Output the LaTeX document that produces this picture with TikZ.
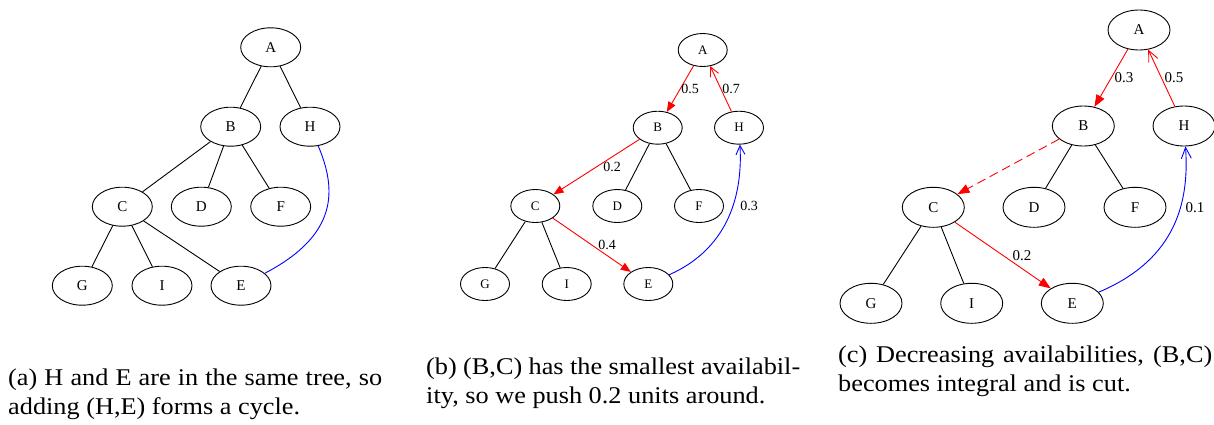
\documentclass[tikz,border=0pt]{standalone}
\usepackage{fontspec}
\usepackage{graphicx}
\setmainfont{Liberation Serif}
\usetikzlibrary{arrows.meta,shapes.geometric}
\newcommand{\capline}[1]{\scalebox{1.095}[1]{\makebox[341.6pt][s]{#1}}}
\newcommand{\capnat}[1]{\scalebox{1.095}[1]{#1}}
\begin{document}
\begin{tikzpicture}[x=1pt,y=-1pt,
  va/.style={ellipse,draw,line width=0.9pt,minimum width=60pt,minimum height=39pt,inner sep=0pt,font=\fontsize{15}{18}\selectfont},
  vb/.style={ellipse,draw,line width=0.9pt,minimum width=49pt,minimum height=33pt,inner sep=0pt,font=\fontsize{13}{16}\selectfont},
  vc/.style={ellipse,draw,line width=0.9pt,minimum width=62pt,minimum height=40pt,inner sep=0pt,font=\fontsize{15}{18}\selectfont},
  tree/.style={line width=0.9pt},
  flow/.style={draw=red,line width=0.9pt},
  back/.style={draw=blue,line width=0.9pt},
  fwdb/.style={-{Triangle[length=10pt,width=8pt]}},
  revb/.style={-{Straight Barb[length=9pt,width=9pt,line width=0.9pt]}},
  fwdc/.style={-{Triangle[length=12pt,width=9pt]}},
  revc/.style={-{Straight Barb[length=11pt,width=10pt,line width=0.9pt]}},
  lblb/.style={font=\fontsize{14}{16}\selectfont,inner sep=0pt},
  lblc/.style={font=\fontsize{15}{17}\selectfont,inner sep=0pt},
  captxt/.style={font=\fontsize{24}{29}\selectfont,inner sep=0pt,anchor=base west}
]
\useasboundingbox (0,0) rectangle (1214,424);

% ---------- panel (a)
\node[va] (aA) at (270.7,47.3) {A};
\node[va] (aB) at (230.7,126.7) {B};
\node[va] (aH) at (310,126.7) {H};
\node[va] (aC) at (122.3,206.7) {C};
\node[va] (aD) at (201.3,206.7) {D};
\node[va] (aF) at (280.7,206.7) {F};
\node[va] (aG) at (82.3,285.7) {G};
\node[va] (aI) at (162,285.7) {I};
\node[va] (aE) at (241,285.7) {E};
\draw[tree] (aA) -- (aB);
\draw[tree] (aA) -- (aH);
\draw[tree] (aB) -- (aC);
\draw[tree] (aB) -- (aD);
\draw[tree] (aB) -- (aF);
\draw[tree] (aC) -- (aG);
\draw[tree] (aC) -- (aI);
\draw[tree] (aC) -- (aE);
\draw[back] (aH) .. controls (337,190) and (338,235) .. (aE);

% ---------- panel (b)
\node[vb] (bA) at (702.7,50) {A};
\node[vb] (bB) at (657.7,127.7) {B};
\node[vb] (bH) at (739,127.7) {H};
\node[vb] (bC) at (535.3,206) {C};
\node[vb] (bD) at (617.3,206) {D};
\node[vb] (bF) at (699,206) {F};
\node[vb] (bG) at (485,284) {G};
\node[vb] (bI) at (566.7,284) {I};
\node[vb] (bE) at (648.3,284) {E};
\draw[tree] (bB) -- (bD);
\draw[tree] (bB) -- (bF);
\draw[tree] (bC) -- (bG);
\draw[tree] (bC) -- (bI);
\draw[flow,fwdb,red] (bA) -- (bB);
\draw[flow,revb,red] (bH) -- (bA);
\draw[flow,fwdb,red] (bB) -- (bC);
\draw[flow,fwdb,red] (bC) -- (bE);
\draw[back,revb,blue] (bE) .. controls (725,250) and (743,200) .. (bH);
\node[lblb] (b05) at (690,89) {0.5};
\node[lblb] (b07) at (731,89) {0.7};
\node[lblb] (b02) at (612,167) {0.2};
\node[lblb] (b04) at (607,245) {0.4};
\node[lblb] (b03) at (749,206) {0.3};

% ---------- panel (c)
\node[vc] (cA) at (1139,30) {A};
\node[vc] (cB) at (1083.3,126) {B};
\node[vc] (cH) at (1184,126) {H};
\node[vc] (cC) at (933.3,207.3) {C};
\node[vc] (cD) at (1034,207.3) {D};
\node[vc] (cF) at (1135,207.3) {F};
\node[vc] (cG) at (871,303.3) {G};
\node[vc] (cI) at (971.7,303.3) {I};
\node[vc] (cE) at (1072.3,303.3) {E};
\draw[tree] (cB) -- (cD);
\draw[tree] (cB) -- (cF);
\draw[tree] (cC) -- (cG);
\draw[tree] (cC) -- (cI);
\draw[flow,fwdc,red] (cA) -- (cB);
\draw[flow,revc,red] (cH) -- (cA);
\draw[flow,fwdc,red,dash pattern=on 9pt off 5pt] (cB) -- (cC);
\draw[flow,fwdc,red] (cC) -- (cE);
\draw[back,revc,blue] (cE) .. controls (1170,262) and (1190,210) .. (cH);
\node[lblc] (c03) at (1124,78) {0.3};
\node[lblc] (c05) at (1174,78) {0.5};
\node[lblc] (c02) at (1022,256) {0.2};
\node[lblc] (c01) at (1195,208) {0.1};

% ---------- captions
\node[captxt] (capa1) at (8,385) {\capline{(a) H and E are in the same tree, so}};
\node[captxt] (capa2) at (8,414) {\capnat{adding (H,E) forms a cycle.}};
\node[captxt] (capb1) at (426,374) {\capline{(b) (B,C) has the smallest availabil-}};
\node[captxt] (capb2) at (426,403) {\capnat{ity, so we push 0.2 units around.}};
\node[captxt] (capc1) at (838,362) {\capline{(c) Decreasing availabilities, (B,C)}};
\node[captxt] (capc2) at (838,391) {\capnat{becomes integral and is cut.}};
\end{tikzpicture}
\end{document}
